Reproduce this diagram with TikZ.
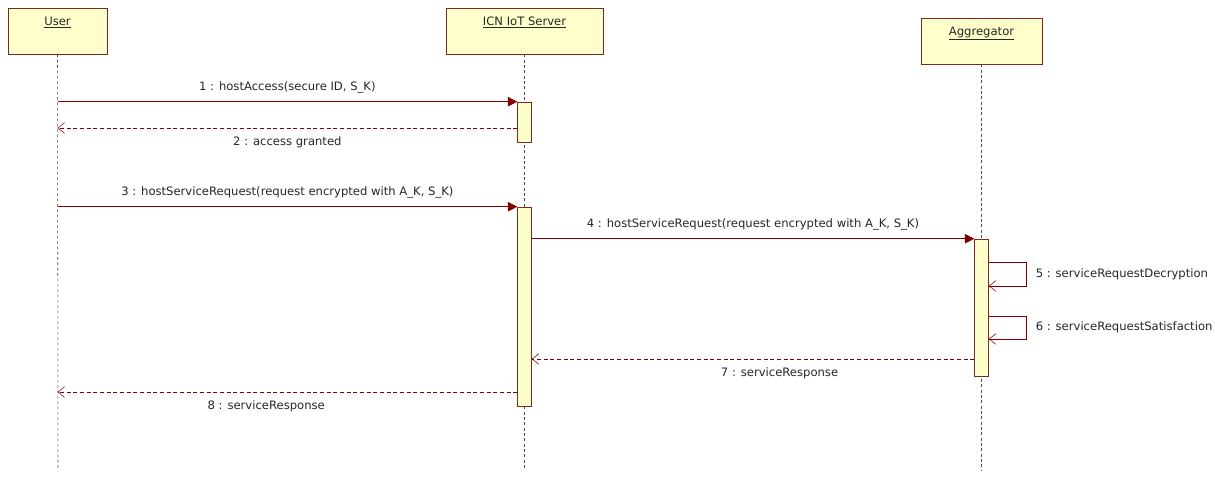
\documentclass[tikz,border=0pt]{standalone}
\usepackage{fontspec}
\setmainfont{DejaVu Sans}
\usetikzlibrary{positioning,arrows.meta,fit}
\definecolor{umlfill}{RGB}{255,255,204}
\definecolor{umlline}{RGB}{128,40,30}
\definecolor{msgred}{RGB}{128,0,0}

\begin{document}
\begin{tikzpicture}[x=0.75pt,y=-0.75pt,
    font=\fontsize{8.7}{10}\selectfont,
    head/.style={draw=umlline,fill=umlfill,inner sep=0pt},
    headtext/.style={anchor=north,inner sep=0pt,text=black!85},
    actbox/.style={draw=umlline,fill=umlfill,inner sep=0pt},
    lifeline/.style={black!70,dash pattern=on 2.2pt off 1.8pt},
    call/.style={msgred,-{Triangle[length=7pt,width=7pt]}},
    reply/.style={msgred,dash pattern=on 3pt off 2pt,-{Straight Barb[length=5pt,width=8pt]}},
    selfcall/.style={msgred,-{Straight Barb[length=5pt,width=8pt]}},
    msg/.style={text=black!85}]
    \fill[white] (0,0) rectangle (1215,479);
    \useasboundingbox (0,0) rectangle (1215,479);

    % lifeline heads
    \node[head,fit={(8,8) (107,54)}] (user) {};
    \node[head,fit={(446,8) (603,54)}] (server) {};
    \node[head,fit={(921,18) (1042,64)}] (aggr) {};
    \node[headtext] (userlbl) at ([yshift=-6.5pt]user.north) {\underline{User}};
    \node[headtext] (serverlbl) at ([yshift=-6.5pt]server.north) {\underline{ICN IoT Server}};
    \node[headtext] (aggrlbl) at ([yshift=-6.5pt]aggr.north) {\underline{Aggregator}};

    % lifelines
    \coordinate (userend) at (58,470);
    \coordinate (serverend) at (524.5,470);
    \coordinate (aggrend) at (981.5,470);
    \draw[lifeline] (user.south) -- (userend);
    \draw[lifeline] (server.south) -- (serverend);
    \draw[lifeline] (aggr.south) -- (aggrend);

    % activations
    \node[actbox,fit={(517.5,102) (531.5,142)}] (act1) {};
    \node[actbox,fit={(517.5,207) (531.5,406)}] (act2) {};
    \node[actbox,fit={(974.5,239) (988.5,376)}] (act3) {};

    % messages
    \draw[call] (user.south |- act1.north) -- (act1.north west)
        node[msg,midway,above=3pt] {1 : hostAccess(secure ID, S\_K)};
    \draw[reply] (act1.west |- 0,128) -- (user.south |- 0,128)
        node[msg,midway,below=3pt] {2 : access granted};
    \draw[call] (user.south |- act2.north) -- (act2.north west)
        node[msg,midway,above=3pt] {3 : hostServiceRequest(request encrypted with A\_K, S\_K)};
    \draw[call] (act2.east |- act3.north) -- (act3.north west)
        node[msg,midway,above=3pt] {4 : hostServiceRequest(request encrypted with A\_K, S\_K)};
    \draw[selfcall] (act3.east |- 0,262) -- ++(37,0) -- ++(0,24)
        node[msg,midway,right=4pt] {5 : serviceRequestDecryption} -- (act3.east |- 0,286);
    \draw[selfcall] (act3.east |- 0,316) -- ++(37,0) -- ++(0,23)
        node[msg,midway,right=4pt] {6 : serviceRequestSatisfaction} -- (act3.east |- 0,339);
    \draw[reply] (act3.west |- 0,359) -- (act2.east |- 0,359)
        node[msg,pos=0.44,below=3pt] {7 : serviceResponse};
    \draw[reply] (act2.west |- 0,392) -- (user.south |- 0,392)
        node[msg,pos=0.546,below=3pt] {8 : serviceResponse};
\end{tikzpicture}
\end{document}
